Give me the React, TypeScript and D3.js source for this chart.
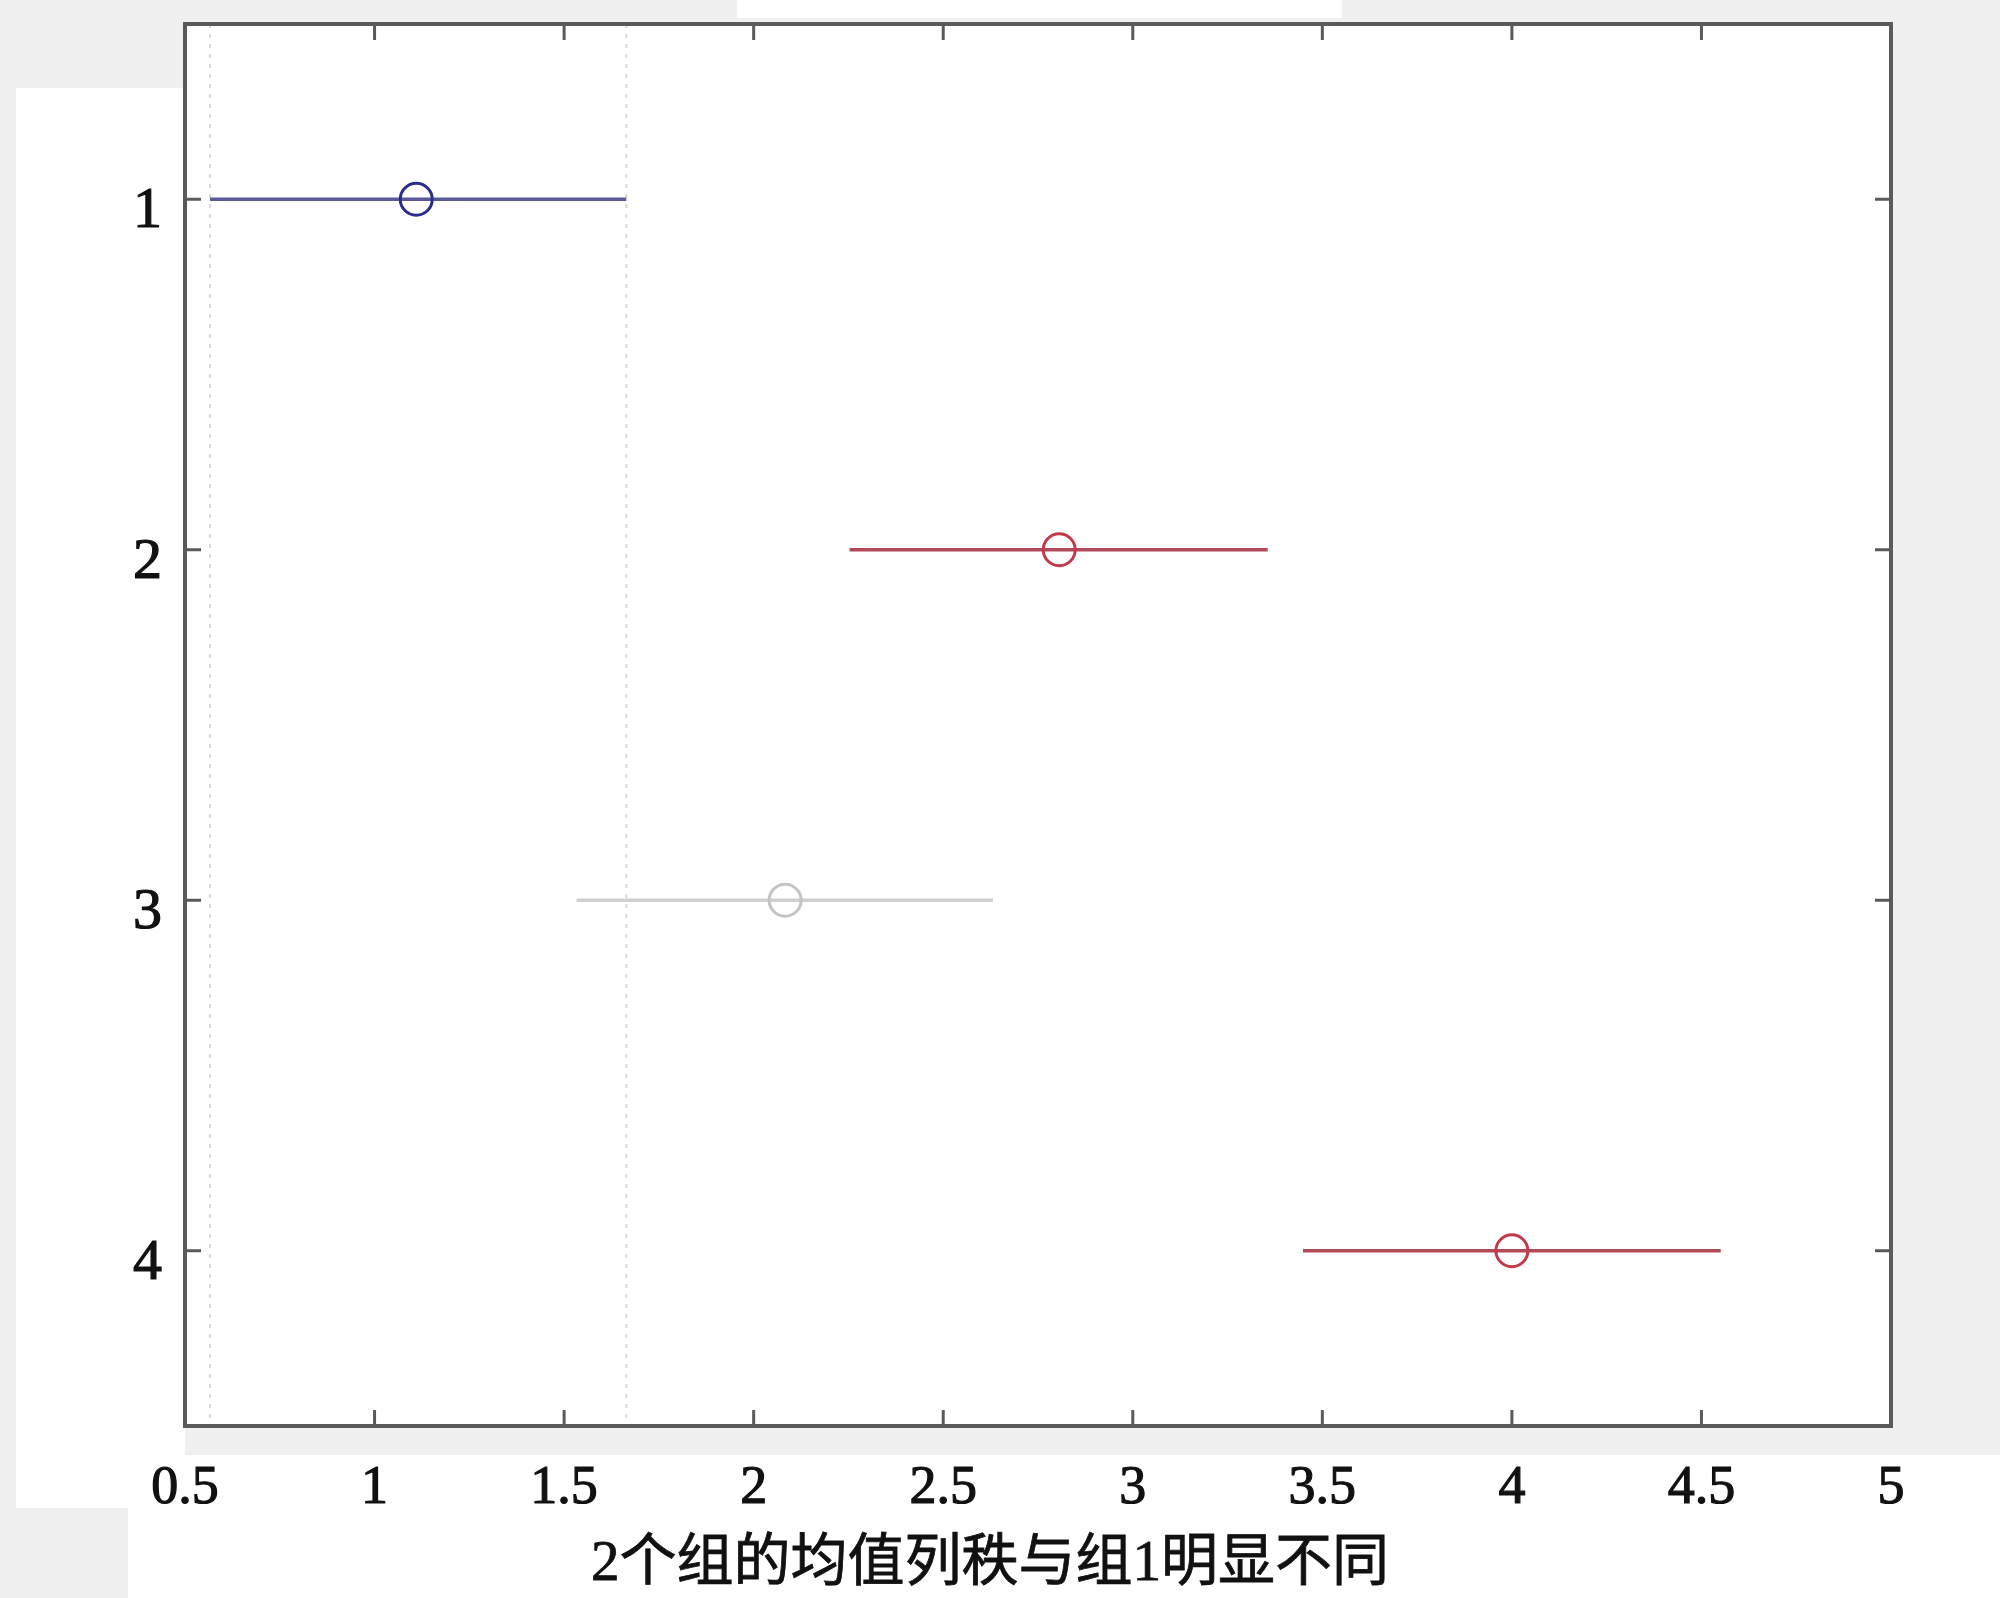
import React from "react";
import * as d3 from "d3";

const groups = [1, 2, 3, 4];
const means = [1.11, 2.806, 2.083, 4.0];
const lowers = [0.566, 2.253, 1.533, 3.449];
const uppers = [1.664, 3.356, 2.631, 4.551];
const status = ["selected", "different", "same", "different"];
const xTicks = [0.5, 1, 1.5, 2, 2.5, 3, 3.5, 4, 4.5, 5];
const yTicks = [1, 2, 3, 4];
const xTitle = "2个组的均值列秩与组1明显不同";

const W = 2000;
const H = 1598;
const L = 185, R = 1891, T = 24, B = 1426;

const lineColor: Record<string, string> = {
  selected: "#5a5a9a",
  different: "#b24a5a",
  same: "#cfcfcf",
};
const circleColor: Record<string, string> = {
  selected: "#2c2c8c",
  different: "#c23a4a",
  same: "#c4c4c4",
};

export default function App() {
  const x = d3.scaleLinear().domain([0.5, 5]).range([L, R]);
  const y = d3.scaleLinear().domain([0.5, 4.5]).range([T, B]);
  const sel = status.indexOf("selected");
  const refLines = [lowers[sel], uppers[sel]];
  const serif = "'Liberation Serif', 'Times New Roman', serif";
  const axisColor = "#5a5a5a";
  const tickLen = 16;

  return (
    <svg width={W} height={H} style={{ display: "block", position: "absolute", left: 0, top: 0 }}>
      {/* background and patches */}
      <rect x={0} y={0} width={W} height={H} fill="#f0f0f0" />
      <rect x={737} y={0} width={605} height={18} fill="#ffffff" />
      <rect x={16} y={88} width={L - 16} height={1508 - 88} fill="#ffffff" />
      <rect x={128} y={1455} width={W - 128} height={H - 1455} fill="#ffffff" />
      <rect x={L} y={T} width={R - L} height={B - T} fill="#ffffff" />

      {/* reference dotted lines */}
      {refLines.map((v, i) => (
        <line key={"ref" + i} x1={x(v)} x2={x(v)} y1={T} y2={B}
          stroke="#d8d8d8" strokeWidth={2} strokeDasharray="4,6" />
      ))}

      {/* intervals */}
      {groups.map((g, i) => (
        <g key={"g" + g}>
          <line x1={x(lowers[i])} x2={x(uppers[i])} y1={y(g)} y2={y(g)}
            stroke={lineColor[status[i]]} strokeWidth={3.5} />
          <circle cx={x(means[i])} cy={y(g)} r={16}
            fill="none" stroke={circleColor[status[i]]} strokeWidth={3} />
        </g>
      ))}

      {/* ticks */}
      {xTicks.map((t) => (
        <g key={"xt" + t}>
          <line x1={x(t)} x2={x(t)} y1={B} y2={B - tickLen} stroke={axisColor} strokeWidth={3} />
          <line x1={x(t)} x2={x(t)} y1={T} y2={T + tickLen} stroke={axisColor} strokeWidth={3} />
          <text x={x(t)} y={1503} textAnchor="middle" fontFamily={serif} fontSize={54}
            fill="#111" stroke="#111" strokeWidth={1.2}>
            {String(t)}
          </text>
        </g>
      ))}
      {yTicks.map((t) => (
        <g key={"yt" + t}>
          <line x1={L} x2={L + tickLen} y1={y(t)} y2={y(t)} stroke={axisColor} strokeWidth={3} />
          <line x1={R} x2={R - tickLen} y1={y(t)} y2={y(t)} stroke={axisColor} strokeWidth={3} />
          <text x={162} y={y(t) + 28} textAnchor="end" fontFamily={serif} fontSize={58}
            fill="#111" stroke="#111" strokeWidth={1.2}>
            {String(t)}
          </text>
        </g>
      ))}

      {/* axes box */}
      <rect x={L} y={T} width={R - L} height={B - T} fill="none" stroke={axisColor} strokeWidth={4} />

      {/* x title */}
      <text x={990} y={1580} textAnchor="middle"
        fontFamily="'Liberation Serif', 'Noto Sans CJK SC', serif" fontSize={57}
        fill="#111" stroke="#111" strokeWidth={0.8}>
        {xTitle}
      </text>
    </svg>
  );
}
